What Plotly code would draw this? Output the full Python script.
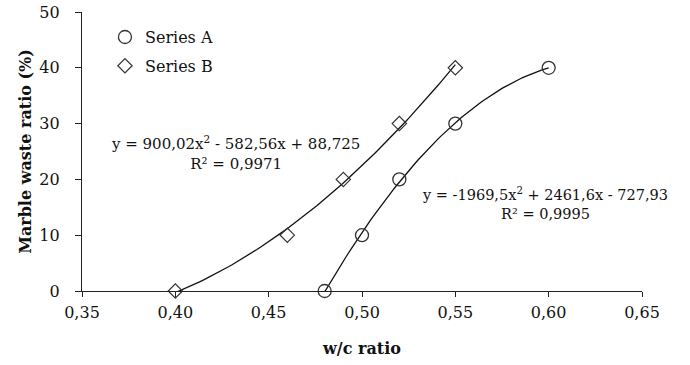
import numpy as np
import plotly.graph_objects as go

# Data
series_a_x = [0.48, 0.50, 0.52, 0.55, 0.60]
series_a_y = [0, 10, 20, 30, 40]
series_b_x = [0.40, 0.46, 0.49, 0.52, 0.55]
series_b_y = [0, 10, 20, 30, 40]
x_ticks = [0.35, 0.40, 0.45, 0.50, 0.55, 0.60, 0.65]
y_ticks = [0, 10, 20, 30, 40, 50]
eq_a = ["y = -1969,5x<sup>2</sup> + 2461,6x - 727,93", "R² = 0,9995"]
eq_b = ["y = 900,02x<sup>2</sup> - 582,56x + 88,725", "R² = 0,9971"]

FONT = "DejaVu Serif, serif"
LINE = "#111111"
MARK = "#333333"

def trend(xs, ys):
    c = np.polyfit(xs, ys, 2)
    xx = np.linspace(min(xs), max(xs), 80)
    return xx, np.polyval(c, xx)

fig = go.Figure()
bx, by = trend(series_b_x, series_b_y)
ax, ay = trend(series_a_x, series_a_y)
fig.add_trace(go.Scatter(x=bx, y=by, mode="lines", line=dict(color=LINE, width=1.3),
                         showlegend=False, hoverinfo="skip", cliponaxis=False))
fig.add_trace(go.Scatter(x=ax, y=ay, mode="lines", line=dict(color=LINE, width=1.3),
                         showlegend=False, hoverinfo="skip", cliponaxis=False))
fig.add_trace(go.Scatter(x=series_a_x, y=series_a_y, mode="markers", name="Series A",
                         legendgroup="A", cliponaxis=False,
                         marker=dict(symbol="circle-open", size=13, color=MARK,
                                     line=dict(width=1.3, color=MARK))))
fig.add_trace(go.Scatter(x=series_b_x, y=series_b_y, mode="markers", name="Series B",
                         legendgroup="B", cliponaxis=False,
                         marker=dict(symbol="diamond-open", size=11, color=MARK,
                                     line=dict(width=1.2, color=MARK))))

fig.add_annotation(x=0.432, y=24.8, xref="x", yref="y", text="<br>".join(eq_b),
                   showarrow=False, align="center",
                   font=dict(family=FONT, size=15, color="#111"))
fig.add_annotation(x=0.598, y=15.6, xref="x", yref="y", text="<br>".join(eq_a),
                   showarrow=False, align="center",
                   font=dict(family=FONT, size=14.5, color="#111"))

fig.update_layout(
    width=690, height=365,
    margin=dict(l=82, r=48, t=12, b=74),
    paper_bgcolor="white", plot_bgcolor="white",
    separators=",.",
    font=dict(family=FONT, size=16, color="#111"),
    showlegend=True,
    legend=dict(x=0.041, y=0.971, xanchor="left", yanchor="top",
                bgcolor="rgba(0,0,0,0)", font=dict(family=FONT, size=16, color="#111"),
                traceorder="grouped", tracegroupgap=5, itemwidth=30),
    xaxis=dict(range=[0.35, 0.65], tickvals=x_ticks, tickformat=".2f",
               showgrid=False, zeroline=False, showline=True, linecolor="#222",
               linewidth=1.3, ticks="outside", ticklen=5, tickcolor="#222",
               ticklabelstandoff=2, automargin=False,
               tickfont=dict(family=FONT, size=16),
               title=dict(text="<b>w/c ratio</b>", font=dict(family=FONT, size=16), standoff=21)),
    yaxis=dict(range=[0, 50], tickvals=y_ticks, showgrid=False, zeroline=False,
               showline=True, linecolor="#222", linewidth=1.3, ticks="outside",
               ticklen=6, tickcolor="#222", ticklabelstandoff=12, automargin=False,
               tickfont=dict(family=FONT, size=16),
               title=dict(text="<b>Marble waste ratio (%)</b>", font=dict(family=FONT, size=16),
                          standoff=3)),
)

fig.write_html("out.html", config={"displayModeBar": False},
               post_script="document.body.style.margin='0';")
